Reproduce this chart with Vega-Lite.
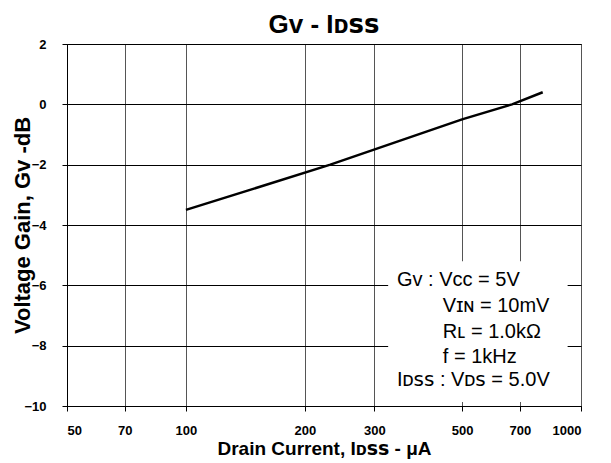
{
  "$schema": "https://vega.github.io/schema/vega-lite/v6.json",
  "width": 514,
  "height": 362,
  "autosize": {"type": "none"},
  "padding": {"left": 67, "top": 44, "right": 30, "bottom": 57},
  "background": "white",
  "title": {"text": "Gᴠ - Iᴅꜱꜱ", "font": "Liberation Sans, Arial, DejaVu Sans", "fontSize": 26, "fontWeight": "bold", "color": "black", "offset": 0, "anchor": "middle"},
  "config": {
    "view": {"stroke": "black", "strokeWidth": 1},
    "axis": {
      "labelFont": "Liberation Sans, Arial",
      "labelFontSize": 13,
      "labelFontWeight": "bold",
      "labelColor": "black",
      "titleFont": "Liberation Sans, Arial, DejaVu Sans",
      "titleFontSize": 19,
      "titleFontWeight": "bold",
      "titleColor": "black",
      "domainColor": "black",
      "tickColor": "black",
      "tickSize": 5,
      "grid": true,
      "gridColor": "#000000",
      "gridWidth": 1,
      "gridOpacity": 1
    }
  },
  "encoding": {
    "x": {
      "field": "x",
      "type": "quantitative",
      "scale": {"type": "log", "domain": [50, 1000], "nice": false},
      "axis": {"values": [50, 70, 100, 200, 300, 500, 700, 1000], "format": "d", "title": "Drain Current, Iᴅꜱꜱ - μA", "labelPadding": 13, "titlePadding": 2, "gridColor": "#555555"}
    },
    "y": {
      "field": "y",
      "type": "quantitative",
      "scale": {"domain": [-10, 2], "nice": false},
      "axis": {"values": [-10, -8, -6, -4, -2, 0, 2], "title": "Voltage Gain, Gᴠ -dB", "titleFontSize": 22, "labelPadding": 16, "titlePadding": -11}
    }
  },
  "layer": [
    {
      "data": {"values": [{"x": 325, "x2": 925, "y": -9.87, "y2": -5.2}]},
      "mark": {"type": "rect", "fill": "white", "stroke": null},
      "encoding": {"x2": {"field": "x2"}, "y2": {"field": "y2"}}
    },
    {
      "data": {"values": [
        {"x": 100, "y": -3.5},
        {"x": 232, "y": -2.0},
        {"x": 500, "y": -0.5},
        {"x": 669, "y": 0.0},
        {"x": 800, "y": 0.4}
      ]},
      "mark": {"type": "line", "color": "black", "strokeWidth": 2.5}
    },
    {
      "data": {"values": [
        {"x": 342, "y": -5.81, "t": "Gᴠ : Vᴄᴄ = 5V"},
        {"x": 447, "y": -6.67, "t": "Vɪɴ = 10mV"},
        {"x": 447, "y": -7.56, "t": "Rʟ = 1.0kΩ"},
        {"x": 447, "y": -8.36, "t": "f = 1kHz"},
        {"x": 342, "y": -9.15, "t": "Iᴅꜱꜱ : Vᴅꜱ = 5.0V"}
      ]},
      "mark": {"type": "text", "align": "left", "baseline": "middle", "font": "Liberation Sans, Arial, DejaVu Sans", "fontSize": 20, "color": "black"},
      "encoding": {"text": {"field": "t"}}
    }
  ]
}
